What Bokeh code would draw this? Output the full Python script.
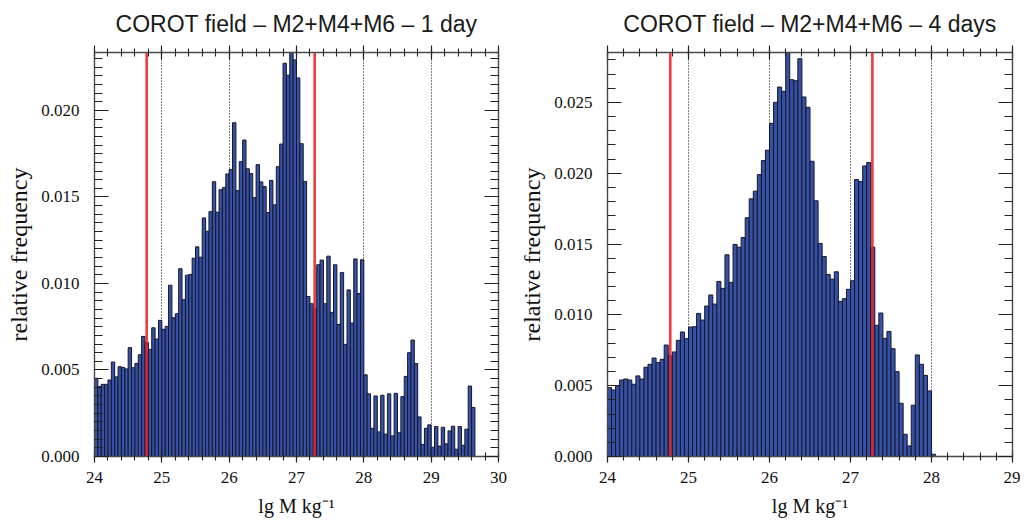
from bokeh.plotting import figure
from bokeh.models import LinearAxis, FixedTicker, PrintfTickFormatter, Span, Range1d
from bokeh.layouts import row
from bokeh.embed import file_html
from bokeh.resources import INLINE

# ---------------- data ----------------
TITLES = ["COROT field \u2013 M2+M4+M6 \u2013 1 day", "COROT field \u2013 M2+M4+M6 \u2013 4 days"]
BIN_START = 24.0
BIN_WIDTH = 0.05

freq_1day = [
    0.00452, 0.00404, 0.00417, 0.00417, 0.00442, 0.00546, 0.00460, 0.00519, 0.00515, 0.00506,
    0.00629, 0.00513, 0.00538, 0.00588, 0.00694, 0.00660, 0.00619, 0.00744, 0.00679, 0.00787,
    0.00735, 0.00752, 0.00990, 0.00802, 0.00825, 0.01085, 0.00906, 0.01048, 0.01052, 0.01146,
    0.01212, 0.01152, 0.01379, 0.01302, 0.01415, 0.01588, 0.01412, 0.01542, 0.01554, 0.01633,
    0.01658, 0.01929, 0.01537, 0.01704, 0.01829, 0.01663, 0.01635, 0.01496, 0.01687, 0.01587,
    0.01560, 0.01410, 0.01596, 0.01454, 0.01675, 0.01806, 0.02273, 0.02204, 0.02335, 0.02292,
    0.02188, 0.01808, 0.01590, 0.00925, 0.00883, 0.00855, 0.01108, 0.01135, 0.00883, 0.01158,
    0.00833, 0.01108, 0.00763, 0.01063, 0.00648, 0.00963, 0.00771, 0.01142, 0.00942, 0.01137,
    0.00472, 0.00362, 0.00163, 0.00350, 0.00142, 0.00354, 0.00129, 0.00362, 0.00119, 0.00365,
    0.00137, 0.00346, 0.00463, 0.00600, 0.00673, 0.00537, 0.00229, 0.00070, 0.00163, 0.00183,
    0.00054, 0.00173, 0.00060, 0.00169, 0.00073, 0.00148, 0.00175, 0.00042, 0.00173, 0.00065,
    0.00158, 0.00407, 0.00284,
]

freq_4days = [
    0.00486, 0.00470, 0.00500, 0.00540, 0.00547, 0.00540, 0.00510, 0.00569, 0.00547, 0.00630,
    0.00651, 0.00695, 0.00663, 0.00686, 0.00787, 0.00710, 0.00738, 0.00820, 0.00879, 0.00832,
    0.00914, 0.00916, 0.01010, 0.00963, 0.01062, 0.01140, 0.01076, 0.01236, 0.01187, 0.01424,
    0.01229, 0.01497, 0.01478, 0.01546, 0.01685, 0.01819, 0.01873, 0.01990, 0.02089, 0.02162,
    0.02352, 0.02500, 0.02608, 0.02578, 0.02852, 0.02660, 0.02653, 0.02808, 0.02538, 0.02465,
    0.02084, 0.01805, 0.01504, 0.01412, 0.01285, 0.01252, 0.01304, 0.01095, 0.01114, 0.01180,
    0.01241, 0.01955, 0.01941, 0.02051, 0.02075, 0.01478, 0.00926, 0.01013, 0.00834, 0.00883,
    0.00761, 0.00599, 0.00376, 0.00157, 0.00075, 0.00362, 0.00717, 0.00651, 0.00573, 0.00463,
    0.00016,
]

X_END = [30, 29]
X_MAJOR_1 = [24, 25, 26, 27, 28, 29, 30]
X_MAJOR_4 = [24, 25, 26, 27, 28, 29]
X_MINOR_STEP = 0.2
Y_MAJOR_1 = [0.000, 0.005, 0.010, 0.015, 0.020]
Y_MAJOR_4 = [0.000, 0.005, 0.010, 0.015, 0.020, 0.025]
Y_MINOR_STEP = [0.0005, 0.001]
RED_LINES = [24.775, 27.27]
Y_LABEL = "relative frequency"
X_LABEL = "lg M kg\u207b\u00b9"

SERIF = "Liberation Serif"
SANS = "Liberation Sans"
BAR_FILL = "#3652a6"
BAR_LINE = "#16162a"


def steps(start, end, step):
    n = int(round((end - start) / step))
    return [round(start + i * step, 6) for i in range(n + 1)]


def make_panel(vals, title, x_end, x_major, y_major, y_minor_step, b_left, b_right, width):
    lefts = [BIN_START + i * BIN_WIDTH for i in range(len(vals))]
    rights = [l + BIN_WIDTH for l in lefts]
    y_top = max(vals)
    p = figure(width=width, height=522,
               x_range=Range1d(24, x_end), y_range=Range1d(0, y_top),
               output_backend="svg", toolbar_location=None,
               min_border_left=b_left, min_border_right=b_right,
               min_border_top=51, min_border_bottom=66,
               title=title)
    p.outline_line_color = None
    p.background_fill_color = "white"
    p.border_fill_color = "white"

    p.title.text_font = SANS
    p.title.text_font_size = "23px"
    p.title.text_font_style = "normal"
    p.title.text_color = "#1a1a1a"
    p.title.align = "center"
    p.title.standoff = 17

    p.xgrid.ticker = FixedTicker(ticks=x_major)
    p.xgrid.grid_line_color = "black"
    p.xgrid.grid_line_dash = "1 2"
    p.xgrid.grid_line_width = 1
    p.ygrid.visible = False

    p.quad(left=lefts, right=rights, top=vals, bottom=0,
           fill_color=BAR_FILL, line_color=BAR_LINE, line_width=1)

    for loc in RED_LINES:
        p.add_layout(Span(location=loc, dimension="height", line_color="#ee2020",
                          line_width=2.6, line_alpha=0.88))

    x_minor = steps(24, x_end, X_MINOR_STEP)
    y_minor = steps(0, y_top, y_minor_step)
    fmt = PrintfTickFormatter(format="%.3f")

    def style(ax, tin, tout, min_in, min_out):
        ax.axis_line_color = "#4a4a4a"
        ax.axis_line_width = 1.4
        ax.major_tick_line_color = "#222222"
        ax.minor_tick_line_color = "#222222"
        ax.major_tick_line_width = 1.2
        ax.minor_tick_line_width = 1.1
        ax.major_tick_in = tin
        ax.major_tick_out = tout
        ax.minor_tick_in = min_in
        ax.minor_tick_out = min_out
        ax.major_label_text_font = SERIF
        ax.major_label_text_font_size = "17px"
        ax.major_label_text_color = "#111111"

    xb = p.xaxis[0]
    xb.ticker = FixedTicker(ticks=x_major, minor_ticks=x_minor)
    style(xb, 6, 6, 4, 4)
    xb.major_label_standoff = 9
    xb.axis_label = X_LABEL
    xb.axis_label_text_font = SERIF
    xb.axis_label_text_font_size = "20px"
    xb.axis_label_text_font_style = "normal"
    xb.axis_label_text_color = "#111111"
    xb.axis_label_standoff = 9

    yl = p.yaxis[0]
    yl.ticker = FixedTicker(ticks=y_major, minor_ticks=y_minor)
    yl.formatter = fmt
    style(yl, 14, 0, 8, 0)
    yl.major_label_standoff = 15
    yl.axis_label = Y_LABEL
    yl.axis_label_text_font = SERIF
    yl.axis_label_text_font_size = "24px"
    yl.axis_label_text_font_style = "normal"
    yl.axis_label_text_color = "#111111"
    yl.axis_label_standoff = 6

    xt = LinearAxis(ticker=FixedTicker(ticks=x_major, minor_ticks=x_minor))
    style(xt, 7, 7, 4, 4)
    xt.major_label_overrides = {float(t): "" for t in x_major}
    xt.major_label_standoff = 0
    p.add_layout(xt, "above")

    yr = LinearAxis(ticker=FixedTicker(ticks=y_major, minor_ticks=y_minor), formatter=fmt)
    style(yr, 14, 0, 8, 0)
    yr.major_label_overrides = {float(t): "" for t in y_major}
    yr.major_label_standoff = 0
    p.add_layout(yr, "right")
    return p


p1 = make_panel(freq_1day, TITLES[0], X_END[0], X_MAJOR_1, Y_MAJOR_1, Y_MINOR_STEP[0], 94, 12, 510)
p2 = make_panel(freq_4days, TITLES[1], X_END[1], X_MAJOR_4, Y_MAJOR_4, Y_MINOR_STEP[1], 97, 8, 510)

layout = row(p1, p2)
open("out.html", "w").write(file_html(layout, INLINE))
